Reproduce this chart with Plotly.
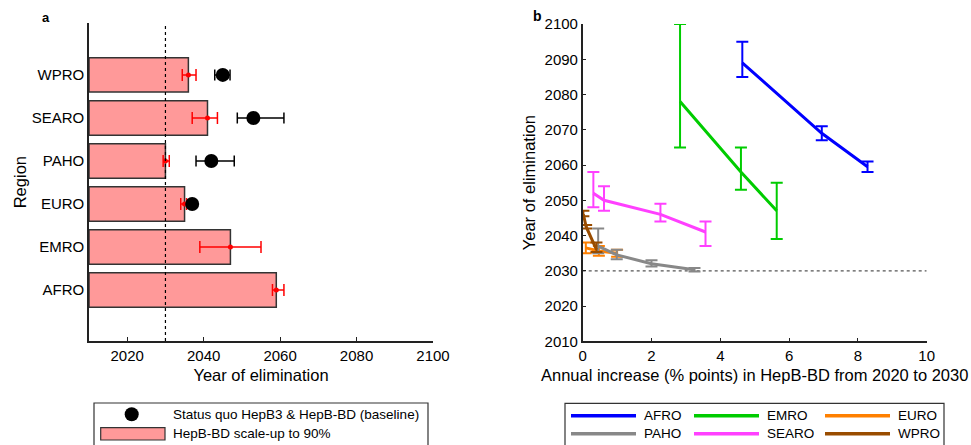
import plotly.graph_objects as go

W, H = 971, 445

# ---------------- Panel a data ----------------
regions = ["AFRO", "EMRO", "EURO", "PAHO", "SEARO", "WPRO"]
scaleup_year = [2059, 2047, 2035, 2030, 2041, 2036]
scaleup_lo = [2058, 2039, 2034, 2029.4, 2037, 2034.4]
scaleup_hi = [2061, 2055, 2035.5, 2031, 2043.6, 2038]
baseline_year = [None, None, 2037, 2042, 2053, 2045]
baseline_lo = [None, None, 2036.5, 2038, 2048.8, 2042.9]
baseline_hi = [None, None, 2037.5, 2048, 2061, 2046.9]
left_xticks = [2020, 2040, 2060, 2080, 2100]

# ---------------- Panel b data ----------------
series_names = ["AFRO", "EMRO", "EURO", "PAHO", "SEARO", "WPRO"]
series_colors = ["#0000FF", "#00CC00", "#FF8000", "#888888", "#FF40FF", "#994C00"]
series_x = [
    [4.64, 6.95, 8.28],
    [2.83, 4.6, 5.64],
    [0.09, 0.47, 1.0],
    [0.45, 0.99, 2.0, 3.25],
    [0.31, 0.62, 2.26, 3.57],
    [0.02, 0.1, 0.4],
]
series_y = [
    [2089, 2069, 2059.5],
    [2078, 2058, 2047],
    [2036.5, 2035.6, 2035],
    [2037, 2034.5, 2032, 2030.3],
    [2052, 2050, 2046, 2041],
    [2046, 2042.5, 2036],
]
series_hi = [
    [2095, 2071, 2061],
    [2100, 2065, 2055],
    [2038, 2037, 2036],
    [2042, 2036, 2033, 2030.8],
    [2058, 2054, 2049, 2044],
    [2047, 2043, 2038],
]
series_lo = [
    [2085, 2067, 2058],
    [2065, 2053, 2039],
    [2035, 2034.3, 2034],
    [2035, 2033.3, 2031.2, 2029.8],
    [2048, 2047, 2044, 2037],
    [2045.5, 2042, 2035.3],
]
target_year = 2030

FONT = "Liberation Sans, Arial, Helvetica, sans-serif"
AX = "#222222"

fig = go.Figure()

ypos = list(range(len(regions)))

# bars (start at 2010)
fig.add_trace(go.Bar(
    y=ypos, x=[v - 2010 for v in scaleup_year], base=2010, orientation="h",
    width=0.8, marker=dict(color="#FF9999", line=dict(color="#333333", width=1.5)),
    xaxis="x", yaxis="y", showlegend=False, name="HepB-BD scale-up to 90%"))

# red error bars
fig.add_trace(go.Scatter(
    y=ypos, x=scaleup_year, mode="markers",
    marker=dict(color="#FF0000", size=5),
    error_x=dict(type="data", symmetric=False,
                 array=[h - v for h, v in zip(scaleup_hi, scaleup_year)],
                 arrayminus=[v - l for l, v in zip(scaleup_lo, scaleup_year)],
                 color="#FF0000", thickness=1.5, width=6),
    xaxis="x", yaxis="y", showlegend=False))

# black baseline dots
by, bx, bhi, blo = [], [], [], []
for i, v in enumerate(baseline_year):
    if v is not None:
        by.append(i); bx.append(v)
        bhi.append(baseline_hi[i] - v); blo.append(v - baseline_lo[i])
fig.add_trace(go.Scatter(
    y=by, x=bx, mode="markers",
    marker=dict(color="#000000", size=14),
    error_x=dict(type="data", symmetric=False, array=bhi, arrayminus=blo,
                 color="#000000", thickness=1.5, width=5.5),
    xaxis="x", yaxis="y", showlegend=False))

# panel b lines
for name, col, xs, ys, hi, lo in zip(series_names, series_colors, series_x, series_y, series_hi, series_lo):
    fig.add_trace(go.Scatter(
        x=xs, y=ys, mode="lines", name=name,
        line=dict(color=col, width=3),
        error_y=dict(type="data", symmetric=False,
                     array=[h - v for h, v in zip(hi, ys)],
                     arrayminus=[v - l for l, v in zip(lo, ys)],
                     color=col, thickness=2, width=6),
        xaxis="x2", yaxis="y2", showlegend=False))

shapes = [
    dict(type="line", xref="x", yref="y domain", x0=target_year, x1=target_year, y0=0, y1=1,
         line=dict(color="#000000", width=1.2, dash="dot"), layer="above"),
    dict(type="line", xref="x2", yref="y2", x0=0, x1=10, y0=target_year, y1=target_year,
         line=dict(color="#555555", width=1.2, dash="dot"), layer="below"),
]

def px(x):
    return x / W

def py(y):
    return 1 - y / H

annotations = [
    dict(text="<b>a</b>", x=px(46), y=py(17), xref="paper", yref="paper", xanchor="center",
         yanchor="middle", showarrow=False, font=dict(size=13, family=FONT, color="#000")),
    dict(text="<b>b</b>", x=px(537.5), y=py(16), xref="paper", yref="paper", xanchor="center",
         yanchor="middle", showarrow=False, font=dict(size=14, family=FONT, color="#000")),
]

# ---- legend a (manual) ----
shapes.append(dict(type="rect", xref="paper", yref="paper", x0=px(94), x1=px(428),
                   y0=py(460), y1=py(403), line=dict(color="#333333", width=1.2),
                   fillcolor="rgba(0,0,0,0)"))
shapes.append(dict(type="circle", xref="paper", yref="paper", x0=px(124.7), x1=px(138.7),
                   y0=py(421.3), y1=py(407.3), line=dict(color="#000", width=0), fillcolor="#000"))
shapes.append(dict(type="rect", xref="paper", yref="paper", x0=px(100.7), x1=px(165),
                   y0=py(440), y1=py(427.7), line=dict(color="#333333", width=1.2),
                   fillcolor="#FF9999"))
legend_a_labels = ["Status quo HepB3 & HepB-BD (baseline)", "HepB-BD scale-up to 90%"]
for lab, yy in zip(legend_a_labels, [414.3, 433.5]):
    annotations.append(dict(text=lab, x=px(170.5), y=py(yy), xref="paper", yref="paper",
                            xanchor="left", yanchor="middle", showarrow=False,
                            font=dict(size=13.5, family=FONT, color="#000")))

# ---- legend b (manual) ----
shapes.append(dict(type="rect", xref="paper", yref="paper", x0=px(565), x1=px(944),
                   y0=py(460), y1=py(403.3), line=dict(color="#333333", width=1.2),
                   fillcolor="rgba(0,0,0,0)"))
col_x = [571, 694, 825]
row_y = [415.7, 433.7]
for k, (name, col) in enumerate(zip(series_names, series_colors)):
    cx = col_x[k % 3]
    ry = row_y[k // 3]
    shapes.append(dict(type="line", xref="paper", yref="paper", x0=px(cx), x1=px(cx + 65),
                       y0=py(ry), y1=py(ry), line=dict(color=col, width=3.5)))
    annotations.append(dict(text=name, x=px(cx + 70.5), y=py(ry), xref="paper", yref="paper",
                            xanchor="left", yanchor="middle", showarrow=False,
                            font=dict(size=13.5, family=FONT, color="#000")))

axis_common = dict(showline=True, linecolor=AX, linewidth=1.5, showgrid=False, zeroline=False,
                   ticks="inside", ticklen=4, tickwidth=1, tickcolor=AX, automargin=False,
                   tickfont=dict(size=15, family=FONT, color="#000"))

fig.update_layout(
    width=W, height=H,
    margin=dict(l=0, r=0, t=0, b=0),
    paper_bgcolor="white", plot_bgcolor="white",
    font=dict(family=FONT, color="#000"),
    showlegend=False,
    bargap=0.2,
    xaxis=dict(domain=[89 / W, 433 / W], range=[2010, 2100], tickvals=left_xticks,
               anchor="y",
               title=dict(text="Year of elimination", font=dict(size=16.5, family=FONT), standoff=6.5),
               **axis_common),
    yaxis=dict(domain=[py(341), py(23.3)], range=[-1.186, 6.2], tickvals=ypos, ticktext=regions,
               anchor="x", showline=True, linecolor=AX, linewidth=1.5, showgrid=False,
               zeroline=False, ticks="", automargin=False,
               tickfont=dict(size=15, family=FONT, color="#000"),
               title=dict(text="Region", font=dict(size=16.5, family=FONT), standoff=1)),
    xaxis2=dict(domain=[582.7 / W, 926.7 / W], range=[0, 10], dtick=2, anchor="y2",
                title=dict(text="Annual increase (% points) in HepB-BD from 2020 to 2030",
                           font=dict(size=16.5, family=FONT), standoff=6.5),
                **axis_common),
    yaxis2=dict(domain=[py(341.3), py(24)], range=[2010, 2100], dtick=10, anchor="x2",
                title=dict(text="Year of elimination", font=dict(size=16.5, family=FONT), standoff=5),
                **axis_common),
    shapes=shapes,
    annotations=annotations,
)

fig.write_html("out.html")
